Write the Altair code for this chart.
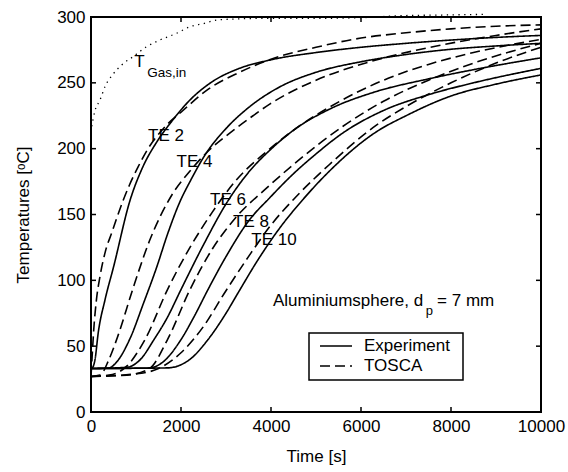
import altair as alt
import pandas as pd

W, H = 450, 395
FONT = "Liberation Sans"
FS = 17

x_ticks = [0, 2000, 4000, 6000, 8000, 10000]
y_ticks = [0, 50, 100, 150, 200, 250, 300]

# inlet gas temperature (dotted)
gas_t = [15, 90, 200, 310, 500, 680, 940, 1240, 1530, 1900, 2200, 2500, 2800, 3200, 4000, 5000, 6000, 6900, 7800, 8750]
gas_T = [217, 229, 237, 247, 257, 263.5, 270, 277.5, 282.5, 287.6, 292.6, 295, 297.7, 298.5, 299, 299, 299.5, 301, 301.5, 302]

# thermocouple readings (Experiment) and simulation (TOSCA)
te2_exp_t = [0, 40, 90, 160, 310, 500, 870, 1150, 1460, 1800, 2200, 2700, 3300, 4000, 5000, 6000, 7000, 8000, 9000, 10000]
te2_exp_T = [33, 34, 40, 60, 85, 110, 161, 186, 205, 221, 237, 251, 261, 267.5, 273, 277, 280, 282.5, 284.5, 286]
te2_sim_t = [0, 15, 30, 60, 120, 200, 320, 460, 600, 718, 850, 1044, 1267, 1600, 2044, 2600, 3300, 4000, 5000, 6000, 7000, 8000, 9000, 10000]
te2_sim_T = [27, 36, 45, 62, 85, 103, 122, 136, 150, 161, 172, 186, 200, 215, 229, 245, 258, 268, 277, 284, 288, 291, 293, 294]

te4_exp_t = [0, 400, 570, 870, 1160, 1460, 1700, 1980, 2200, 2530, 3020, 3530, 4200, 5000, 6000, 7000, 8000, 9000, 10000]
te4_exp_T = [33, 33.5, 38, 56, 82, 110, 135, 160, 175, 195, 216, 232, 247, 258, 266, 271.5, 275.5, 278, 280]
te4_sim_t = [0, 200, 400, 600, 925, 1300, 1800, 2200, 2600, 3090, 3600, 3980, 5000, 6200, 7680, 9000, 10000]
te4_sim_T = [27, 28, 40, 58, 93, 130, 165, 183, 198, 212, 225, 234, 252, 266, 278, 286, 291]

te6_exp_t = [0, 800, 1100, 1400, 1700, 2000, 2500, 3000, 3500, 3980, 4500, 5300, 6300, 7500, 8500, 10000]
te6_exp_T = [33, 34, 40, 55, 72, 93, 127, 158, 182, 199, 214, 230, 243, 253, 260, 269]
te6_sim_t = [0, 400, 800, 1200, 1700, 2200, 2700, 3200, 3980, 4500, 5530, 6500, 7500, 8500, 10000]
te6_sim_T = [27, 28, 35, 55, 93, 125, 152, 175, 200, 214, 236, 252, 264, 273, 283]

te8_exp_t = [0, 1300, 1600, 2000, 2300, 2600, 3000, 3500, 3980, 4500, 5000, 5600, 6500, 7500, 8500, 10000]
te8_exp_T = [33, 33.5, 38, 55, 73, 93, 118, 145, 163, 181, 196, 212, 229, 241, 250, 261]
te8_sim_t = [0, 800, 1300, 1700, 2200, 2700, 3200, 3900, 4500, 5600, 6500, 7500, 8500, 10000]
te8_sim_T = [27, 28, 33, 55, 93, 124, 147, 170, 188, 217, 236, 252, 265, 280]

te10_exp_t = [0, 1700, 2200, 2600, 3000, 3260, 3700, 4200, 4700, 5300, 6350, 7000, 8000, 9000, 10000]
te10_exp_T = [33, 33.5, 40, 55, 75, 90, 115, 140, 161, 183, 213, 225, 240, 249, 256]
te10_sim_t = [0, 1000, 1500, 2000, 2500, 2960, 3500, 4000, 4600, 5300, 6350, 7000, 8000, 9000, 10000]
te10_sim_T = [27, 29, 33, 45, 65, 90, 118, 142, 165, 188, 218, 232, 250, 265, 277]

# sensor labels placed along the curves
label_text = ["TE 2", "TE 4", "TE 6", "TE 8", "TE 10"]
label_t = [1667, 2300, 3044, 3555, 4066]
label_T = [210, 190, 161, 144, 130.6]

legend_labels = ["Experiment", "TOSCA"]

series = [
    ("TE 2", "Experiment", te2_exp_t, te2_exp_T),
    ("TE 2", "TOSCA", te2_sim_t, te2_sim_T),
    ("TE 4", "Experiment", te4_exp_t, te4_exp_T),
    ("TE 4", "TOSCA", te4_sim_t, te4_sim_T),
    ("TE 6", "Experiment", te6_exp_t, te6_exp_T),
    ("TE 6", "TOSCA", te6_sim_t, te6_sim_T),
    ("TE 8", "Experiment", te8_exp_t, te8_exp_T),
    ("TE 8", "TOSCA", te8_sim_t, te8_sim_T),
    ("TE 10", "Experiment", te10_exp_t, te10_exp_T),
    ("TE 10", "TOSCA", te10_sim_t, te10_sim_T),
]
rows = []
for sensor, source, ts, temps in series:
    for t, v in zip(ts, temps):
        rows.append({"time": t, "temp": v, "sensor": sensor, "source": source})
curves = pd.DataFrame(rows)
gas = pd.DataFrame({"time": gas_t, "temp": gas_T})
labels = pd.DataFrame({"label": label_text, "time": label_t, "temp": label_T})

DASH_SOLID = [1, 0]
DASH_TOSCA = [10, 5]

x_scale = alt.Scale(domain=[0, 10000], nice=False, zero=False)
y_scale = alt.Scale(domain=[0, 300], nice=False, zero=False)

x_axis = alt.Axis(values=x_ticks, title="Time [s]", domain=False, ticks=False, grid=False,
                  labelFontSize=FS, labelPadding=6, labelFlush=False, labelColor="black",
                  titleFontSize=FS, titleFontWeight="normal", titlePadding=14, titleColor="black",
                  format="d")
y_axis = alt.Axis(values=y_ticks, title="Temperatures [ᵒC]", domain=False, ticks=False, grid=False,
                  labelFontSize=FS, labelPadding=6, labelColor="black",
                  titleFontSize=FS, titleFontWeight="normal", titlePadding=24, titleColor="black")


def xpos(field):
    return alt.X(field, scale=x_scale, axis=x_axis)


def ypos(field):
    return alt.Y(field, scale=y_scale, axis=y_axis)


lines = alt.Chart(curves).mark_line(color="black", strokeWidth=1.6, interpolate="monotone").encode(
    x=xpos("time:Q"),
    y=ypos("temp:Q"),
    detail="sensor:N",
    strokeDash=alt.StrokeDash(
        "source:N",
        scale=alt.Scale(domain=legend_labels, range=[DASH_SOLID, DASH_TOSCA]),
        legend=None,
    ),
)

gas_line = alt.Chart(gas).mark_line(color="black", strokeWidth=1.3, strokeDash=[1.3, 4.5],
                                    interpolate="monotone").encode(
    x=xpos("time:Q"), y=ypos("temp:Q"),
)

sensor_labels = alt.Chart(labels).mark_text(fontSize=FS, color="black", align="center",
                                            baseline="middle").encode(
    x=xpos("time:Q"), y=ypos("temp:Q"), text="label:N",
)

# inlet gas annotation with subscript
gas_main = pd.DataFrame({"txt": ["T"], "time": [960], "temp": [265.5]})
gas_sub = pd.DataFrame({"txt": ["Gas,in"], "time": [1250], "temp": [257.5]})
ann_gas_T = alt.Chart(gas_main).mark_text(fontSize=FS, color="black", align="left", baseline="middle").encode(
    x=xpos("time:Q"), y=ypos("temp:Q"), text="txt:N")
ann_gas_sub = alt.Chart(gas_sub).mark_text(fontSize=13.5, color="black", align="left", baseline="middle").encode(
    x=xpos("time:Q"), y=ypos("temp:Q"), text="txt:N")

# particle annotation with subscript
part_text = ["Aluminiumsphere, d", "p", "= 7 mm"]
part_t = [4044, 7440, 7690]
part_T = [84.3, 77.0, 84.3]
part_size = [FS, 13, FS]
part = pd.DataFrame({"txt": part_text, "time": part_t, "temp": part_T, "size": part_size})
ann_part = alt.Chart(part).mark_text(color="black", align="left", baseline="middle").encode(
    x=xpos("time:Q"), y=ypos("temp:Q"), text="txt:N",
    size=alt.Size("size:Q", scale=None, legend=None),
)

# boxed legend inside the plot area
one = pd.DataFrame({"k": [0]})
leg_box = alt.Chart(one).mark_rect(fill="white", stroke="black", strokeWidth=1.5).encode(
    x=alt.value(218), x2=alt.value(372), y=alt.value(316), y2=alt.value(363))
leg_items = []
for i, (name, dash) in enumerate(zip(legend_labels, [DASH_SOLID, DASH_TOSCA])):
    row_y = 329 + 20 * i
    leg_items.append(
        alt.Chart(one).mark_rule(color="black", strokeWidth=1.6, strokeDash=dash).encode(
            x=alt.value(229), x2=alt.value(261), y=alt.value(row_y)))
    leg_items.append(
        alt.Chart(one).mark_text(text=name, fontSize=FS, color="black", align="left",
                                 baseline="middle").encode(x=alt.value(273), y=alt.value(row_y)))

# inward tick marks on all four sides
xt = pd.DataFrame({"time": x_ticks})
yt = pd.DataFrame({"temp": y_ticks})
tick_len = 5
ticks_bottom = alt.Chart(xt).mark_rule(color="black", strokeWidth=1.5).encode(
    x=xpos("time:Q"), y=alt.value(H), y2=alt.value(H - tick_len))
ticks_top = alt.Chart(xt).mark_rule(color="black", strokeWidth=1.5).encode(
    x=xpos("time:Q"), y=alt.value(0), y2=alt.value(tick_len))
ticks_left = alt.Chart(yt).mark_rule(color="black", strokeWidth=1.5).encode(
    y=ypos("temp:Q"), x=alt.value(0), x2=alt.value(tick_len))
ticks_right = alt.Chart(yt).mark_rule(color="black", strokeWidth=1.5).encode(
    y=ypos("temp:Q"), x=alt.value(W), x2=alt.value(W - tick_len))

chart = alt.layer(
    lines, gas_line, sensor_labels, ann_gas_T, ann_gas_sub, ann_part,
    leg_box, *leg_items,
    ticks_bottom, ticks_top, ticks_left, ticks_right,
).properties(
    width=W, height=H,
    autosize=alt.AutoSizeParams(type="none"),
    padding={"left": 91, "top": 17, "right": 27, "bottom": 60},
    background="white",
).configure(font=FONT).configure_view(stroke="black", strokeWidth=2)

chart.save("out.html", embed_options={"renderer": "svg", "actions": False})
